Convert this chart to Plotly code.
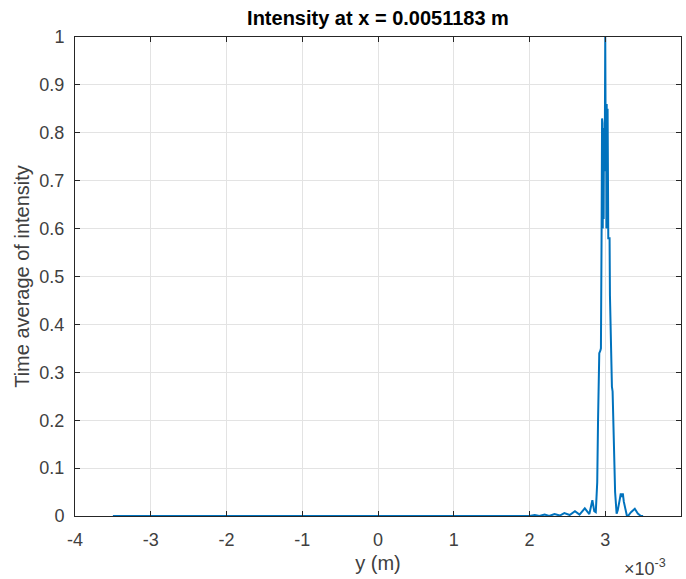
import plotly.graph_objects as go

# y position in units of 1e-3 m
y_pos = [-3.5, -3.0, -2.5, -2.0, -1.5, -1.0, -0.5, 0.0, 0.5, 1.0, 1.5, 1.9, 2.0,
         2.07, 2.13, 2.2, 2.26, 2.33, 2.4, 2.46, 2.53, 2.6, 2.66, 2.73, 2.79, 2.83,
         2.855, 2.875, 2.894, 2.905, 2.921, 2.935, 2.943, 2.952, 2.958, 2.961, 2.964,
         2.967, 2.970, 2.973, 2.976, 2.979, 2.982, 2.986, 2.990, 2.995, 3.000, 3.005,
         3.009, 3.013, 3.016, 3.019, 3.022, 3.025, 3.028, 3.031, 3.034, 3.037, 3.040,
         3.050, 3.057, 3.062, 3.070, 3.079, 3.088, 3.097, 3.106, 3.115, 3.130, 3.150,
         3.165, 3.190, 3.205, 3.220, 3.232, 3.245, 3.264, 3.285, 3.300, 3.340, 3.390,
         3.430, 3.470, 3.500]
intensity = [0.0, 0.0, 0.0, 0.0, 0.0, 0.0, 0.0, 0.0, 0.0, 0.0, 0.0, 0.001, 0.0,
             0.002, 0.0, 0.003, 0.0, 0.004, 0.001, 0.006, 0.002, 0.010, 0.003, 0.016, 0.004, 0.033,
             0.010, 0.008, 0.07, 0.20, 0.34, 0.345, 0.35, 0.60, 0.83, 0.62, 0.82,
             0.60, 0.81, 0.61, 0.80, 0.62, 0.78, 0.64, 0.72, 0.80, 1.0, 0.80,
             0.66, 0.84, 0.60, 0.86, 0.61, 0.86, 0.60, 0.85, 0.60, 0.84, 0.58,
             0.58, 0.58, 0.46, 0.40, 0.32, 0.27, 0.26, 0.20, 0.13, 0.05, 0.005,
             0.012, 0.033, 0.047, 0.040, 0.047, 0.030, 0.012, 0.001, 0.0, 0.008, 0.015,
             0.005, 0.0, 0.0]

x_ticks = [-4, -3, -2, -1, 0, 1, 2, 3, 4]
x_tick_labels = ["-4", "-3", "-2", "-1", "0", "1", "2", "3", "4"]
y_ticks = [0, 0.1, 0.2, 0.3, 0.4, 0.5, 0.6, 0.7, 0.8, 0.9, 1]
y_tick_labels = ["0", "0.1", "0.2", "0.3", "0.4", "0.5", "0.6", "0.7", "0.8", "0.9", "1"]

font_family = "Liberation Sans, Arial, sans-serif"
axis_col = "#262626"
text_col = "#404040"

fig = go.Figure()
fig.add_trace(go.Scatter(x=y_pos, y=intensity, mode="lines",
                         line=dict(color="#0072BD", width=2), showlegend=False))

fig.update_layout(
    width=686, height=579,
    margin=dict(l=75, r=5, t=37, b=63),
    paper_bgcolor="white", plot_bgcolor="white",
    font=dict(family=font_family, color=text_col, size=18),
    title=dict(text="<b>Intensity at x = 0.0051183 m</b>", x=0.5, xref="paper",
               y=1 - 18 / 579, yref="container", yanchor="middle", xanchor="center",
               font=dict(size=20, color="#000000")),
)
fig.update_xaxes(
    range=[-4, 4], tickvals=x_ticks, ticktext=x_tick_labels,
    showline=True, linecolor=axis_col, linewidth=1, mirror="ticks",
    ticks="inside", ticklen=5, tickcolor=axis_col,
    showgrid=True, gridcolor="#e3e3e3", gridwidth=1, zeroline=False,
    tickfont=dict(size=18, color=text_col), ticklabelstandoff=7,
    title=dict(text="y (m)", font=dict(size=20, color=text_col), standoff=7),
)
fig.update_yaxes(
    range=[0, 1], tickvals=y_ticks, ticktext=y_tick_labels,
    showline=True, linecolor=axis_col, linewidth=1, mirror="ticks",
    ticks="inside", ticklen=5, tickcolor=axis_col,
    showgrid=True, gridcolor="#e3e3e3", gridwidth=1, zeroline=False,
    tickfont=dict(size=18, color=text_col), ticklabelstandoff=6,
    title=dict(text="Time average of intensity", font=dict(size=20, color=text_col), standoff=4),
)
fig.add_annotation(text="×10<sup>-3</sup>", xref="paper", yref="paper",
                   x=0.978, y=-0.107, xanchor="right", yanchor="middle",
                   showarrow=False, font=dict(size=18, color=text_col))

fig.write_html("out.html")
